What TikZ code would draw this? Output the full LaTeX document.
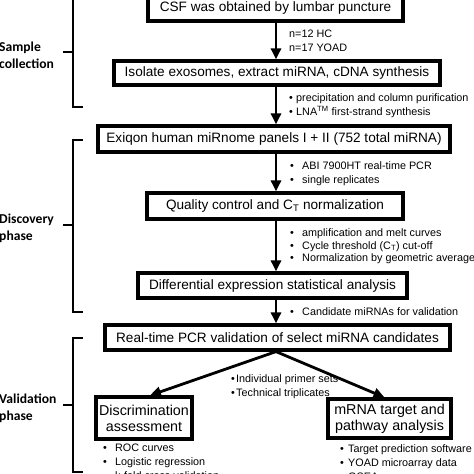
\documentclass[tikz,border=0pt]{standalone}
\usepackage{fontspec}
\setmainfont{Liberation Sans}
\newfontfamily\labfont{Carlito}
\usetikzlibrary{arrows.meta,calc}
\begin{document}
\begin{tikzpicture}[x=1pt,y=-1pt,
  box/.style={draw,line width=3.2pt,inner sep=0pt,font=\fontsize{13.6}{15}\selectfont,align=center},
  bigbox/.style={box,font=\fontsize{14.3}{16}\selectfont},
  arr/.style={line width=2.8pt,-{Triangle[width=10pt,length=11pt]}},
  brace/.style={line width=1.8pt},
  note/.style={inner sep=0pt,anchor=west,align=left,font=\fontsize{10.8}{14}\selectfont},
  notetight/.style={note,font=\fontsize{10.8}{12.5}\selectfont},
  phase/.style={inner sep=0pt,anchor=west,align=left,font=\labfont\bfseries\fontsize{13.6}{17}\selectfont}]
\useasboundingbox (0,0) rectangle (474,474);
\clip (0,0) rectangle (474,474);
\newcommand{\bul}[1][12pt]{\makebox[#1][l]{\textbullet}}
% boxes
\node[box,minimum width=255pt,minimum height=26pt] (b1) at (275.5,8) {CSF was obtained by lumbar puncture};
\node[box,minimum width=326pt,minimum height=24pt] (b2) at (277,73) {Isolate exosomes, extract miRNA, cDNA synthesis};
\node[box,minimum width=352pt,minimum height=26pt] (b3) at (274,139) {Exiqon human miRnome panels I + II (752 total miRNA)};
\node[box,minimum width=256pt,minimum height=26pt] (b4) at (275,206) {Quality control and C\textsubscript{T} normalization};
\node[box,minimum width=269pt,minimum height=25pt] (b5) at (272.5,285.5) {Differential expression statistical analysis};
\node[box,minimum width=345pt,minimum height=25pt] (b6) at (277.5,337.5) {Real-time PCR validation of select miRNA candidates};
\node[bigbox,minimum width=96pt,minimum height=42pt] (b7) at (144,418) {Discrimination\\assessment};
\node[bigbox,minimum width=123pt,minimum height=39pt] (b8) at (389.5,418.5) {mRNA target and\\pathway analysis};
% arrows
\coordinate (ax) at (276,0);
\draw[arr] (b1.south -| ax) -- (b2.north -| ax);
\draw[arr] (b2.south -| ax) -- (b3.north -| ax);
\draw[arr] (b3.south -| ax) -- (b4.north -| ax);
\draw[arr] (b4.south -| ax) -- (b5.north -| ax);
\draw[arr] (b5.south -| ax) -- (b6.north -| ax);
\draw[arr] (b6.south -| ax) -- ($(b7.north)+(6,0)$);
\draw[arr] (b6.south -| ax) -- ($(b8.north)+(-5,0)$);
% notes
\node[note] (n1) at (289,41) {n=12 HC\\n=17 YOAD};
\node[note] (n2) at (289,106) {\bul[7pt]precipitation and column purification\\\bul[7pt]LNA\textsuperscript{TM} first-strand synthesis};
\node[note] (n3) at (290,174) {\bul ABI 7900HT real-time PCR\\\bul single replicates};
\node[notetight] (n4) at (290,246.5) {\bul amplification and melt curves\\\bul Cycle threshold (C\textsubscript{T}) cut-off\\\bul Normalization by geometric average};
\node[note] (n5) at (290,312) {\bul Candidate miRNAs for validation};
\node[note] (n6) at (231,386.5) {\bul[5pt]Individual primer sets\\\bul[5pt]Technical triplicates};
\node[note] (n7) at (103,462) {\bul ROC curves\\\bul Logistic regression\\\bul k-fold cross validation};
\node[note] (n8) at (340,462.5) {\bul[8pt]Target prediction software\\\bul[8pt]YOAD microarray data\\\bul[8pt]GSEA};
% braces
\draw[brace] (83,-3) -- (73,-3) -- (73,107) -- (83,107);
\draw[brace] (63,52) -- (73,52);
\draw[brace] (83,140) -- (73,140) -- (73,312) -- (83,312);
\draw[brace] (63,225) -- (73,225);
\draw[brace] (83,338) -- (73,338) -- (73,472) -- (83,472);
\draw[brace] (63,405) -- (73,405);
% phase labels
\node[phase] (p1) at (-1,55.5) {Sample\\collection};
\node[phase] (p2) at (-1,228.5) {Discovery\\phase};
\node[phase] (p3) at (-1,408.5) {Validation\\phase};
\end{tikzpicture}
\end{document}
